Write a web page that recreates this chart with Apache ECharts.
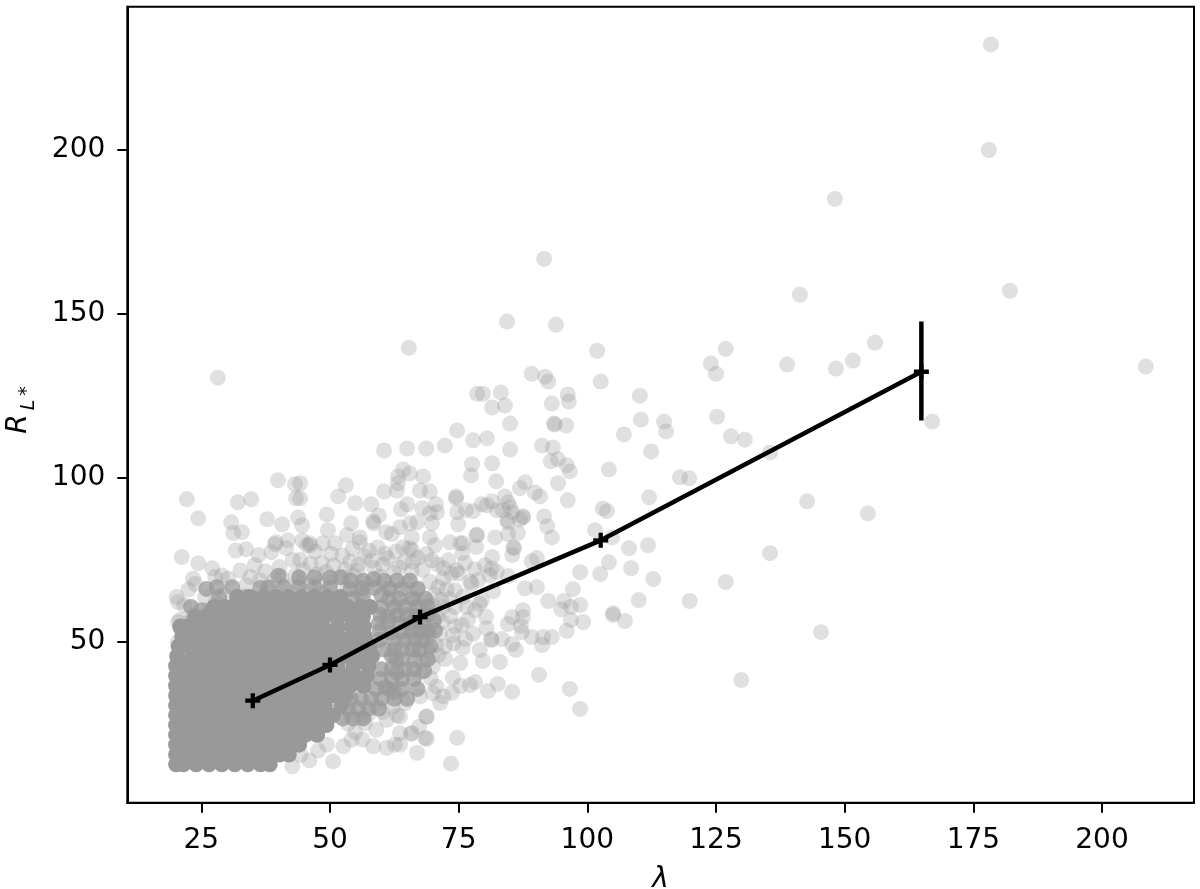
<!DOCTYPE html>
<html><head><meta charset="utf-8">
<script src="https://cdn.jsdelivr.net/npm/echarts@6/dist/echarts.min.js"></script>
<style>html,body{margin:0;padding:0;background:#fff}#c{width:1200px;height:889px}</style>
</head><body><div id="c"></div>
<script>
const xTicks=[25,50,75,100,125,150,175,200];
const yTicks=[50,100,150,200];
const binLambda=[35,50,67.5,102.6,164.9];
const binR=[32,42.9,57.5,80.9,132.3];
const lastBinError=[[164.9,117.4],[164.9,147.6]];
const sparsePoints=[[178.4,232.5],[178,200.3],[148.1,185.4],[182.1,157.4],[141.3,156.2],[208.5,134.3],[148.3,133.7],[151.6,136.1],[155.9,141.6],[138.8,134.9],[124,135.2],[125,132.1],[126.9,139.7],[125.2,119],[127.9,113],[130.6,112],[135.5,108.1],[167,117.5],[142.7,93.2],[154.5,89.5],[135.5,77.4],[126.9,68.6],[119.9,62.8],[145.4,53.3],[129.9,38.7],[28.2,130.9],[65.3,140],[91.6,167.1],[93.9,147],[84.4,148],[101.9,139.1],[102.6,129.7],[110.2,125.4],[110.4,118.1],[114.9,117.5],[115.3,114.5],[107.1,113.6],[112.4,108.4],[118,100.5],[119.8,100.2],[112,94.4],[104.2,102.9],[103,91],[103.8,90.2],
[110,63.1],[112.8,69.5],[111.8,79.8],[108.1,78.9],[108.5,72.8],[104.2,74.6],[102.5,71],[98.6,71.6],[97.2,66.4],[98.6,61.6],[92.4,62.8],[95.5,62.8],[94.9,60.3],[96.8,61],[96.8,57],[99.2,56.4],[96,53.7],[105,59.1],[105,58.5],[107.3,56.7],[93.1,51.8],[91.4,51.8],[91.2,49.4],[89.2,51.8],[87.5,60],[87.5,57.9],[85.4,57.9],[84.6,55.8],[87.1,55.2],[87.3,53.3],[83.4,51.2],[85.4,49.7],[86.1,47.9],[81.3,51.2],[79.1,47.9],[79.7,44.5],[83,44.2],[75.3,43.9],[75.8,48.5],[90.6,40.3],[96.6,36],[98.6,29.9],[82.6,37.5],[85.4,35.1],[80.7,35.4],[78.2,38.1],[77.2,37.2],[75.3,36.9],[73.7,34.8],[73.9,39.4],[71.4,31.7],[68.7,27.5],[67.3,24.4],[65.7,22.3],[68.8,20.8],[74.7,21.1],[66.9,16.5],[73.5,13.2],
[101.5,84.4],[104.8,82.2],[93.1,82.2],[92.2,85.6],[91.6,88.6],[87.5,88.6],[86.5,83.5],[82.1,82.2],[78.4,82.9],[85.8,78.9],[85.4,76.8],[81.5,76.2],[90.2,75.9],[89.2,74.9],[90.2,67],[87.9,66.7],[84.6,70.4],[81.7,65.8],[96.2,93.5],
[89.2,132.1],[91.8,131.2],[92.4,129.7],[78.6,126],[79.7,126],[83.2,126.4],[81.5,121.8],[84,122.4],[85,116.9],[74.7,114.8],[77.8,111.8],[80.5,112.4],[85,109],[72.3,110.2],[68.7,109.3],[65,109.3],[60.5,108.7],[93.1,123],[96.2,125.8],[96.4,123.6],[93.5,116.9],[93.7,116.6],[95.9,116.3],[91.2,110.2],[93.3,109.6],[92.9,105.4],[94.3,106],[96,104.2],[96.6,102.3],[94.3,98.7],[81.5,104.8],[77.6,104.5],[77.4,101.1],[82.3,99.3],[87.9,99],[86.9,97.2],[89.8,95.9],[90.8,94.7],[74.5,94.7],[74.5,94.1],[84,94.7],[81.5,93.2],[79.5,92.3],[80.5,92],[84.6,92.9],[85,91.4],[85.4,89.9],[74.7,89.9],[76.4,90.5],[77.8,90.2],[82.4,90.5],[83.6,90.5],[87.5,88.3],[86.9,87.7],[84.4,87.4],[84.6,86.8],[74.9,86.2],[78.6,82.9],[84.6,83.2],[85.6,79.2],[68.1,100.8],[65.5,101.7],[64.2,102.9],[63.2,100.8],[63.2,98.7],[63,96.5],[67.5,96.5],[69.4,96.2],[70.6,92.3],[70.8,89.9],[69.4,89.5],[67.9,91.1],[65,92.3],[63.8,90.8],[60.5,96.2],[53.1,98.1],[51.6,94.7],[54.9,92.6],[58,92.3],[49.4,89.2],[49.6,84.4],[59.5,88.9],[58.4,87.1],[58.5,86.5],[54.1,86.5],[44.2,98.7],[44.2,94.1],[44.6,85.9],[69.8,86.5],[66.9,86.8],[65.5,86.5],[63.6,85.3],[60.9,83.8],[62,83.2],[65.9,82.2],[69.4,82.2],[73.3,80.7],[75.3,80.4],[75.8,80.4],[53.3,82.9],[55.8,82.2],[55.8,80.7],[46.1,80.4],[48.6,80.4],[51,80.4],[59.3,79.2],[64.2,79.2],[65.5,78.9],
[22.2,93.8],[24.4,88],[32.1,92.9],[34.7,93.8],[43.4,94.1],[43.2,98.4],[39.9,99.6],[37.8,87.7],[40.7,86.2],[43.8,88.3],[30.8,86.8],[31.2,83.5],[32.9,83.8],[33.7,78.6],[39.5,80.7],[41.8,81.3],[41.5,78.9],[44.6,81.3],[46.1,79.8],[21.2,76.2],[24.4,74.3],[35.4,73.7],[37.4,71.9],[40.2,73.2],[39.3,80.1],[45.5,79.8],[44.2,75.3],[42.8,75.3]];
const midCloud=[[50.6,13.9],[46,14.2],[42.7,12.4],[54.2,20.5],[52.6,18.5],[49.4,19],[58.4,18.5],[61,18],[62.6,19],[59,23.5],[61,26.6],[63,28],[65.9,22.5],[68.8,27.6],[68.5,21],[56.8,25.6],[54.9,22.8],[56.3,20.6],[53.5,25.4],[47.7,17.2],[44.3,15.9],
[20.2,64],[20.5,62.5],[22.5,66.3],[23.4,69.6],[23.8,68],[25.7,64],[27.7,70.1],[29,70.6],[30.2,69.6],[33.7,67.6],[34.5,70.1],[36.4,69.1],[31.9,64],[20.9,57],[23.4,58.5],[25.7,57],[40.6,70.1],[44.8,72.2],[20.5,56.4],[29.6,57.6],[21.7,61.4],[20.4,50.2],[21.2,53.6],[22.6,56.1],[24.4,55.2],[26.3,59.9],[27.8,62.3],[29.4,64.8],[33.2,64.2],[34.6,60.6],[38.2,66.4],[39.2,69.2],[41.4,67.4],[43.3,70.6],[45.8,67.7],[47.4,70.9],[48.6,65.3],[50.2,68.4],[51.5,63.9],[53.3,66.7],[52.6,70.2],[55.9,64.8],[57.2,68.1],[55.4,72.1],[58.6,72.9],[50.7,73.6],[48.4,74.4],[46.2,74.1],[53.9,74.8],[56.8,76.4],[61.2,75.8],[59.7,70.2],[61.6,66.7],[63.1,61.8],[62.4,71.4],[64.3,74.6],[65.9,71.9],[64.9,68.1],[66.2,63.6],[66.5,63],[64.6,57.8],[65.5,51.9],[66.2,47.9],[68.8,47.9],[69.4,52.9],[71.4,52.9],[74,49.9],[72.3,48.9],[74.3,55],[75.6,55.5],[80.3,58],[80.4,54.5],[81.4,50.9],[68.2,56.4],[70.8,58.1],[72,61],[74.3,61],[76.6,61],[78.2,60],[79.1,62],[79.5,63],[77.2,68.7],[78.8,69.2],[77.5,68.1],[74.3,66.1],[71,67.1],[69.4,68.7],[72,69.7],[74.6,72.2],[75,71.2],[73,75.2],[69.8,75.2],[65.9,78.3],[70.4,79.8],[78.4,79.3],[80.1,73.7],[81.4,72.7],[82.4,71.7],[81,70.6],[68,72.3],[67.1,66.6],[68.8,62.4],[70.3,64.8],[66.9,59.1],
[70,42.8],[68,44.6],[70.7,36.7],[72,33.7],[67.5,33.7],[70,34.7],[63.6,27.6],[64.6,31.6],[63.6,22.5],[63.6,19],[67.6,41.1],[69.6,39.2],[72.4,45.1],[71.1,46.3],[68.6,50.5],[66.4,54.8],[53.7,28.9],[55.8,27.1],[57.4,28.3],[60.2,28.9],[62.2,30.5],
[27.1,72.8],[32.6,72.1],[31.7,78.2],[36.1,76.8],[38.6,77.7],[47.1,77.9],[50.2,77.2],[52.4,76.6],[54.4,78.7],[57.6,78.1],[60.3,73.9],[62.8,77.9],[67,76],[72.1,72.8],[76.2,74.4],[78.1,72.5],[71.6,63.2],[73.4,58.2],[76.8,57.1],[77.8,52.8],[69.7,46.1],
[52.9,72.3],[55.6,74],[58.1,75.1],[60.7,77.2],[63.4,73.1],[66.1,74.8],[68.7,77.1],[70.9,73.9],[73.6,71.1],[75.7,77.4],[72.7,66.4],[70.2,61.1],[73.2,63.4],[75.9,64.2],[71.8,56.4],[73.9,52.4],[76.3,51.2],[70.6,49.4],[44.1,68.3],[47.9,67.3],[49.2,71.6],[54.6,70.6]];
const haloCloud=[[54,69],[56.5,69],[60.5,69],[63,69],[65.5,69],[54,66.5],[61.5,66.5],[64,66.5],[67,66.5],[54.3,63.5],[61.5,63.5],[63.5,63.5],[66,63.5],[68.5,63.5],[60,61],[62.5,61],[64.5,61],[67,61],[69,61],[63,58.5],[65,58.5],[69,58.5],[63.5,56],[65.5,56],[68,56],[64,53.5],[66,53.5],[69,53.5],[59.6,51],[62.5,51],[64.5,51],[66.5,51],[68,51],[60.5,48],[64,48],[66,48],[64,45],[66.5,45],[69,45],[60,42],[64.5,42],[66.3,42],[59.8,39],[62,39],[64,39],[59,36],[61.5,36],[64,36],[67,36],[54,33],[56,33],[58,33],[60,33],[62.5,33],[65,33],[53.5,30],[55.5,30],[57.5,30],[59.5,30],[52.5,27],[54.5,27],[56.5,27],
[38,67],[41,67],[44,67],[47,67],[50,67],[44,70],[47,70],[50,70],[52,70],[23,61],[25,60],[27,60],[28.5,64],[31,67],[34,64],
[59.8,58.5],[61.2,58],[59.5,56],[61.4,56.6],[59.7,53.7],[61.8,53.1],[62.5,48],[62,46.1],[62,42.3],[60,64.6],[56.4,64.2],[58.6,66.8],[56.2,66.7],[58.5,69.5],[62.8,45],[63,41],[60.8,36.5],[62.4,35],[66.3,39],[68.3,41.5],[67.4,47.8],[69.5,49],[70.4,53.8],[70.2,57],[67.6,53.7],[66.8,58.2],[40,70.5],[36.5,66.8],[28,67],[26,66.5]];
const coreCloud=[
[20.1,13],[21.5,13],[24,13],[26.5,13],[29,13],[31.5,13],[34,13],[36.5,13],[38.3,13],
[20.1,16],[22.7,16],[25.2,16],[27.7,16],[30.2,16],[32.7,16],[35.2,16],[37.7,16],[40.2,16],[42,16],
[20.1,19],[21.5,19],[24,19],[26.5,19],[29,19],[31.5,19],[34,19],[36.5,19],[39,19],[41.5,19],[44,19],
[20.1,22],[22.7,22],[25.2,22],[27.7,22],[30.2,22],[32.7,22],[35.2,22],[37.7,22],[40.2,22],[42.7,22],[45.2,22],[47.5,22],
[20.1,25],[21.5,25],[24,25],[26.5,25],[29,25],[31.5,25],[34,25],[36.5,25],[39,25],[41.5,25],[44,25],[46.5,25],[49.3,25],
[20.1,28],[22.7,28],[25.2,28],[27.7,28],[30.2,28],[32.7,28],[35.2,28],[37.7,28],[40.2,28],[42.7,28],[45.2,28],[47.7,28],[50.6,28],
[20.1,31],[21.5,31],[24,31],[26.5,31],[29,31],[31.5,31],[34,31],[36.5,31],[39,31],[41.5,31],[44,31],[46.5,31],[49,31],[52.2,31],
[20.1,34],[22.7,34],[25.2,34],[27.7,34],[30.2,34],[32.7,34],[35.2,34],[37.7,34],[40.2,34],[42.7,34],[45.2,34],[47.7,34],[50.2,34],[53,34],
[20.1,37],[21.5,37],[24,37],[26.5,37],[29,37],[31.5,37],[34,37],[36.5,37],[39,37],[41.5,37],[44,37],[46.5,37],[49,37],[51.5,37],[54,37],[56.5,37],
[20.1,40],[22.7,40],[25.2,40],[27.7,40],[30.2,40],[32.7,40],[35.2,40],[37.7,40],[40.2,40],[42.7,40],[45.2,40],[47.7,40],[50.2,40],[52.7,40],[54.8,40],[57.2,40],
[20.1,43],[21.5,43],[24,43],[26.5,43],[29,43],[31.5,43],[34,43],[36.5,43],[39,43],[41.5,43],[44,43],[46.5,43],[49,43],[51.5,43],[54.6,43],[57.5,43],
[20.3,46],[23.2,46],[25.7,46],[28.2,46],[30.7,46],[33.2,46],[35.7,46],[38.2,46],[40.7,46],[43.2,46],[45.7,46],[48.2,46],[50.7,46],[53.6,46],[56.2,46],[58.2,46],
[20.6,49],[22.6,49],[25,49],[27.5,49],[30,49],[32.5,49],[35,49],[37.5,49],[40,49],[42.5,49],[45,49],[47.5,49],[50,49],[52.8,49],[55.4,49],[57.7,49],
[21.3,52],[23,52],[25.3,52],[28,52],[30.5,52],[33,52],[35.5,52],[38,52],[40.5,52],[43,52],[45.5,52],[48,52],[49.9,52],[51.7,52],[54.3,52],[56.8,52],
[20.9,55],[22.5,55],[25,55],[26.7,55],[28.4,55],[31,55],[33.5,55],[36,55],[38.5,55],[41,55],[43.5,55],[46,55],[48.5,55],[51.5,55],[54.2,55],[56.6,55],
[23.8,58],[25.8,58],[28,58],[30.5,58],[33,58],[34.7,58],[36.4,58],[39,58],[41.5,58],[44,58],[46.5,58],[49,58],[51.5,58],[54,58],[56.4,58],
[27.5,61],[29.5,61],[31,61],[33.5,61],[36,61],[38.5,61],[41,61],[43.5,61],[46,61],[48.5,61],[51,61],[53.5,61],[56,61],[57.8,61],
[32,64],[34.5,64],[37,64],[39.5,64],[42,64],[44.5,64],[47,64],[49.5,64],[52,64]];

const readingOffsetR=-0.4;
const place=list=>list.map(p=>[p[0],p[1]+readingOffsetR]);
const cloudStyle={color:'#999999',opacity:0.3};
const chart=echarts.init(document.getElementById('c'),null,{renderer:'canvas'});
const font='"DejaVu Sans"';
chart.setOption({
 animation:false,
 backgroundColor:'#fff',
 grid:{left:127.3,right:6,top:6.7,bottom:86.3,outerBoundsMode:'none',show:true,borderColor:'#000',borderWidth:2,backgroundColor:'transparent'},
 xAxis:{type:'value',min:10.62,max:217.87,name:'λ',nameLocation:'middle',nameGap:63,
  nameTextStyle:{fontFamily:font,fontStyle:'italic',fontSize:28,color:'#000'},
  axisLine:{show:true,onZero:false,lineStyle:{color:'#000',width:2}},
  axisTick:{show:true,length:10,customValues:xTicks,lineStyle:{color:'#000',width:2}},
  axisLabel:{fontFamily:font,fontSize:28,color:'#000',margin:24,customValues:xTicks},
  splitLine:{show:false}},
 yAxis:{type:'value',min:0.91,max:243.6,
  axisLine:{show:true,onZero:false,lineStyle:{color:'#000',width:2}},
  axisTick:{show:true,length:10,customValues:yTicks,lineStyle:{color:'#000',width:2}},
  axisLabel:{fontFamily:font,fontSize:28,color:'#000',margin:22,padding:[5,0,0,0],customValues:yTicks},
  splitLine:{show:false}},
 graphic:[
  {type:'text',rotation:Math.PI/2,x:19,y:424,style:{text:'R',font:'italic 28px "DejaVu Sans"',fill:'#000',align:'center',verticalAlign:'middle'}},
  {type:'text',rotation:Math.PI/2,x:29,y:405,style:{text:'L',font:'italic 19px "DejaVu Sans"',fill:'#000',align:'center',verticalAlign:'middle'}},
  {type:'text',rotation:Math.PI/2,x:27,y:391,style:{text:'*',font:'19px "DejaVu Sans"',fill:'#000',align:'center',verticalAlign:'middle'}}
 ],
 series:[
  {type:'scatter',name:'core',data:place(coreCloud),symbol:'circle',symbolSize:16,itemStyle:{color:'#999999',opacity:1},z:2,silent:true,progressive:0},
  {type:'scatter',name:'halo',data:place(haloCloud),symbol:'circle',symbolSize:16,itemStyle:{color:'#999999',opacity:0.75},z:2,silent:true,progressive:0},
  {type:'scatter',name:'mid',data:place(midCloud),symbol:'circle',symbolSize:16,itemStyle:cloudStyle,z:2,silent:true,progressive:0},
  {type:'scatter',name:'sparse',data:place(sparsePoints),symbol:'circle',symbolSize:16,itemStyle:cloudStyle,z:2,silent:true,progressive:0},
  {type:'line',name:'binned',data:binLambda.map((x,i)=>[x,binR[i]]),z:5,showSymbol:true,symbol:'path://M5 0H9V5H14V9H9V14H5V9H0V5H5Z',symbolSize:15,
   lineStyle:{color:'#000',width:4.5},itemStyle:{color:'#000'}},
  {type:'line',name:'error',data:lastBinError,z:5,showSymbol:false,symbol:'none',lineStyle:{color:'#000',width:4.5,cap:'butt'}}
 ]
});
</script></body></html>
